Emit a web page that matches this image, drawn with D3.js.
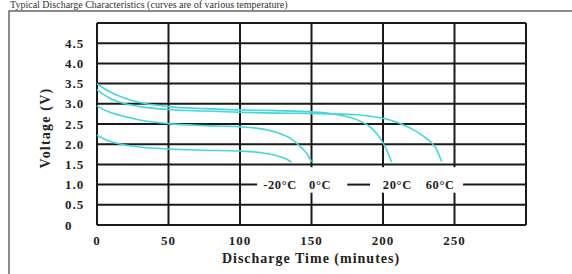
<!DOCTYPE html>
<html>
<head>
<meta charset="utf-8">
<script src="https://cdn.jsdelivr.net/npm/d3@7"></script>
<style>
  body { margin: 0; background: #fff; }
  svg { display: block; font-family: "Liberation Serif", "DejaVu Serif", serif; font-weight: bold; }
</style>
</head>
<body>
<div id="chart"></div>
<script>
const width = 572;
const height = 274;
const marginTop = 23;
const marginRight = 46;
const marginBottom = 49;
const marginLeft = 97;

// discharge curves (minutes, volts)
const tempLabels = ["-20\u00b0C", "0\u00b0C", "20\u00b0C", "60\u00b0C"];
const labelTimes = [128, 156, 210, 240];

const timeM20 = [0, 5, 10, 20, 30, 50, 75, 100, 115, 125, 132, 136];
const voltM20 = [2.22, 2.13, 2.06, 1.98, 1.93, 1.88, 1.85, 1.83, 1.79, 1.72, 1.64, 1.56];

const time0 = [0, 5, 10, 20, 30, 50, 75, 100, 115, 125, 135, 142, 147, 150];
const volt0 = [2.95, 2.85, 2.78, 2.68, 2.6, 2.51, 2.46, 2.43, 2.38, 2.3, 2.15, 1.95, 1.75, 1.56];

const time20 = [0, 5, 10, 20, 30, 50, 75, 100, 125, 150, 170, 184, 192, 198, 202, 206];
const volt20 = [3.5, 3.38, 3.28, 3.13, 3.03, 2.93, 2.88, 2.85, 2.83, 2.8, 2.72, 2.57, 2.4, 2.15, 1.9, 1.56];

const time60 = [0, 5, 10, 20, 30, 50, 75, 100, 125, 150, 175, 190, 205, 219, 230, 237, 241];
const volt60 = [3.35, 3.22, 3.12, 3.0, 2.93, 2.86, 2.82, 2.79, 2.77, 2.76, 2.74, 2.7, 2.6, 2.4, 2.15, 1.9, 1.57];

const xTicks = [0, 50, 100, 150, 200, 250];
const yTicks = [0, 0.5, 1.0, 1.5, 2.0, 2.5, 3.0, 3.5, 4.0, 4.5];

const series = [
  d3.zip(timeM20, voltM20),
  d3.zip(time0, volt0),
  d3.zip(time20, volt20),
  d3.zip(time60, volt60)
];

const x = d3.scaleLinear().domain([0, 300]).range([marginLeft, width - marginRight]);
const y = d3.scaleLinear().domain([0, 5]).range([height - marginBottom, marginTop]);

const svg = d3.select("#chart").append("svg")
  .attr("width", width)
  .attr("height", height);

// outer frame + caption
svg.append("text")
  .attr("x", 10).attr("y", 8)
  .style("font-size", "10px")
  .style("font-weight", "normal")
  .attr("fill", "#333")
  .text("Typical Discharge Characteristics (curves are of various temperature)");
svg.append("path")
  .attr("d", `M9,${height}V11H${width}`)
  .attr("fill", "none")
  .attr("stroke", "#666")
  .attr("stroke-width", 1.5);

// grid
const grid = svg.append("g").attr("stroke", "#1a1a1a").attr("stroke-width", 2);
grid.selectAll(".h")
  .data(yTicks.concat([5]))
  .join("line")
  .attr("x1", x(0)).attr("x2", x(300))
  .attr("y1", d => y(d)).attr("y2", d => y(d));
grid.selectAll(".v")
  .data(xTicks.concat([300]))
  .join("line")
  .attr("x1", d => x(d)).attr("x2", d => x(d))
  .attr("y1", y(0)).attr("y2", y(5));

// curves
const line = d3.line()
  .x(d => x(d[0]))
  .y(d => y(d[1]))
  .curve(d3.curveMonotoneX);

svg.append("g")
  .selectAll("path")
  .data(series)
  .join("path")
  .attr("d", line)
  .attr("fill", "none")
  .attr("stroke", "#45d6dd")
  .attr("stroke-width", 1.6);

// legend strip breaking the grid
svg.append("rect")
  .attr("x", x(112)).attr("y", y(1.43))
  .attr("width", x(256) - x(112))
  .attr("height", y(0.8) - y(1.43))
  .attr("fill", "#fff");
svg.append("line")
  .attr("x1", x(175)).attr("x2", x(191))
  .attr("y1", y(1)).attr("y2", y(1))
  .attr("stroke", "#1a1a1a").attr("stroke-width", 2);
svg.append("g")
  .selectAll("text")
  .data(tempLabels)
  .join("text")
  .attr("x", (d, i) => x(labelTimes[i]))
  .attr("y", y(1) + 4)
  .attr("text-anchor", "middle")
  .style("font-size", "12.5px")
  .style("letter-spacing", "0.6px")
  .attr("fill", "#222")
  .text(d => d);

// axis labels
svg.append("g")
  .selectAll("text")
  .data(yTicks)
  .join("text")
  .attr("x", 65)
  .attr("y", d => y(d) + 4.5)
  .style("font-size", "13px")
  .style("letter-spacing", "1px")
  .attr("fill", "#222")
  .text(d => d === 0 ? "0" : d.toFixed(1));

svg.append("g")
  .selectAll("text")
  .data(xTicks)
  .join("text")
  .attr("x", d => x(d))
  .attr("y", 245)
  .attr("text-anchor", "middle")
  .style("font-size", "13px")
  .style("letter-spacing", "1px")
  .attr("fill", "#222")
  .text(d => d);

svg.append("text")
  .attr("x", 311).attr("y", 263)
  .attr("text-anchor", "middle")
  .style("font-size", "14px")
  .style("letter-spacing", "1px")
  .attr("fill", "#222")
  .text("Discharge Time (minutes)");

svg.append("text")
  .attr("transform", `translate(50,${y(2.4)}) rotate(-90)`)
  .attr("text-anchor", "middle")
  .style("font-size", "14px")
  .style("letter-spacing", "1.2px")
  .attr("fill", "#222")
  .text("Voltage (V)");
</script>
</body>
</html>
